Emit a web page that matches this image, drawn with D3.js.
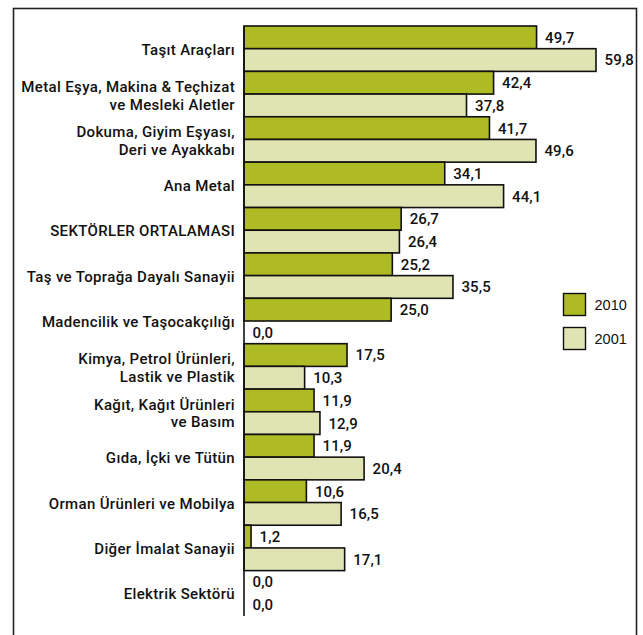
<!DOCTYPE html>
<html>
<head>
<meta charset="utf-8">
<script src="https://cdn.jsdelivr.net/npm/d3@7"></script>
<style>
  html, body { margin: 0; padding: 0; background: #fff; }
  svg { display: block; }
  text { font-family: Roboto, "Noto Sans", sans-serif; fill: #111; }
</style>
</head>
<body>
<svg id="chart" width="643" height="635"></svg>
<script>
// Sector names (multi-line labels split with "\n")
const sectors = [
  "Taşıt Araçları",
  "Metal Eşya, Makina & Teçhizat\nve Mesleki Aletler",
  "Dokuma, Giyim Eşyası,\nDeri ve Ayakkabı",
  "Ana Metal",
  "SEKTÖRLER ORTALAMASI",
  "Taş ve Toprağa Dayalı Sanayii",
  "Madencilik ve Taşocakçılığı",
  "Kimya, Petrol Ürünleri,\nLastik ve Plastik",
  "Kağıt, Kağıt Ürünleri\nve Basım",
  "Gıda, İçki ve Tütün",
  "Orman Ürünleri ve Mobilya",
  "Diğer İmalat Sanayii",
  "Elektrik Sektörü"
];
const values2010 = [49.7, 42.4, 41.7, 34.1, 26.7, 25.2, 25.0, 17.5, 11.9, 11.9, 10.6, 1.2, 0.0];
const values2001 = [59.8, 37.8, 49.6, 44.1, 26.4, 35.5, 0.0, 10.3, 12.9, 20.4, 16.5, 17.1, 0.0];
const seriesNames = ["2010", "2001"];
const seriesColors = ["#aebb24", "#e0e4b3"];

const svg = d3.select("#chart");

// outer frame
svg.append("rect")
  .attr("x", 13.5).attr("y", 8.5)
  .attr("width", 623).attr("height", 640)
  .attr("fill", "none").attr("stroke", "#222").attr("stroke-width", 1.6);

const x0 = 244;
const x = d3.scaleLinear().domain([0, 59.8]).range([x0, 596]);
const y = d3.scaleBand().domain(sectors).range([26, 616]).padding(0);
const ySub = d3.scaleBand().domain(seriesNames).range([0, y.bandwidth()]).padding(0);

const rows = sectors.map((s, i) => ({
  sector: s,
  bars: [
    { series: "2010", value: values2010[i], color: seriesColors[0] },
    { series: "2001", value: values2001[i], color: seriesColors[1] }
  ]
}));

const groups = svg.append("g").selectAll("g.grp")
  .data(rows).join("g")
  .attr("class", "grp")
  .attr("transform", d => `translate(0,${y(d.sector)})`);

// bars
groups.selectAll("rect")
  .data(d => d.bars.filter(b => b.value > 0)).join("rect")
  .attr("x", x(0))
  .attr("y", b => ySub(b.series))
  .attr("width", b => x(b.value) - x(0))
  .attr("height", ySub.bandwidth())
  .attr("fill", b => b.color)
  .attr("stroke", "#111")
  .attr("stroke-width", 1.6);

// value labels
const fmt = v => d3.format(".1f")(v).replace(".", ",");
groups.selectAll("text.val")
  .data(d => d.bars).join("text")
  .attr("class", "val")
  .attr("x", b => x(b.value) + 8.5)
  .attr("y", b => ySub(b.series) + ySub.bandwidth() / 2)
  .attr("dy", "0.36em")
  .attr("font-size", 15)
  .attr("font-weight", 500)
  .attr("letter-spacing", 0.1)
  .text(b => fmt(b.value));

// category labels
groups.append("text")
  .attr("class", "cat")
  .attr("text-anchor", "end")
  .attr("font-size", 15)
  .attr("font-weight", 500)
  .attr("letter-spacing", 0.35)
  .each(function(d) {
    const lines = d.sector.split("\n");
    const c = y.bandwidth() / 2;
    const base = lines.length === 1 ? [c + 6] : [c - 2, c + 15.5];
    d3.select(this).selectAll("tspan")
      .data(lines).join("tspan")
      .attr("x", x0 - 9)
      .attr("y", (l, i) => base[i])
      .text(l => l);
  });

// category axis line
svg.append("line")
  .attr("x1", x0).attr("x2", x0)
  .attr("y1", 26).attr("y2", 616)
  .attr("stroke", "#111").attr("stroke-width", 1.6);

// legend
const legend = svg.append("g").selectAll("g")
  .data(seriesNames).join("g")
  .attr("transform", (d, i) => `translate(563.5,${293.5 + i * 34})`);
legend.append("rect")
  .attr("width", 22).attr("height", 22)
  .attr("fill", (d, i) => seriesColors[i])
  .attr("stroke", "#111").attr("stroke-width", 1.4);
legend.append("text")
  .attr("x", 31).attr("y", 11).attr("dy", "0.36em")
  .attr("font-size", 14.5)
  .style("font-family", "Arial, 'Liberation Sans', sans-serif")
  .text(d => d);
</script>
</body>
</html>
